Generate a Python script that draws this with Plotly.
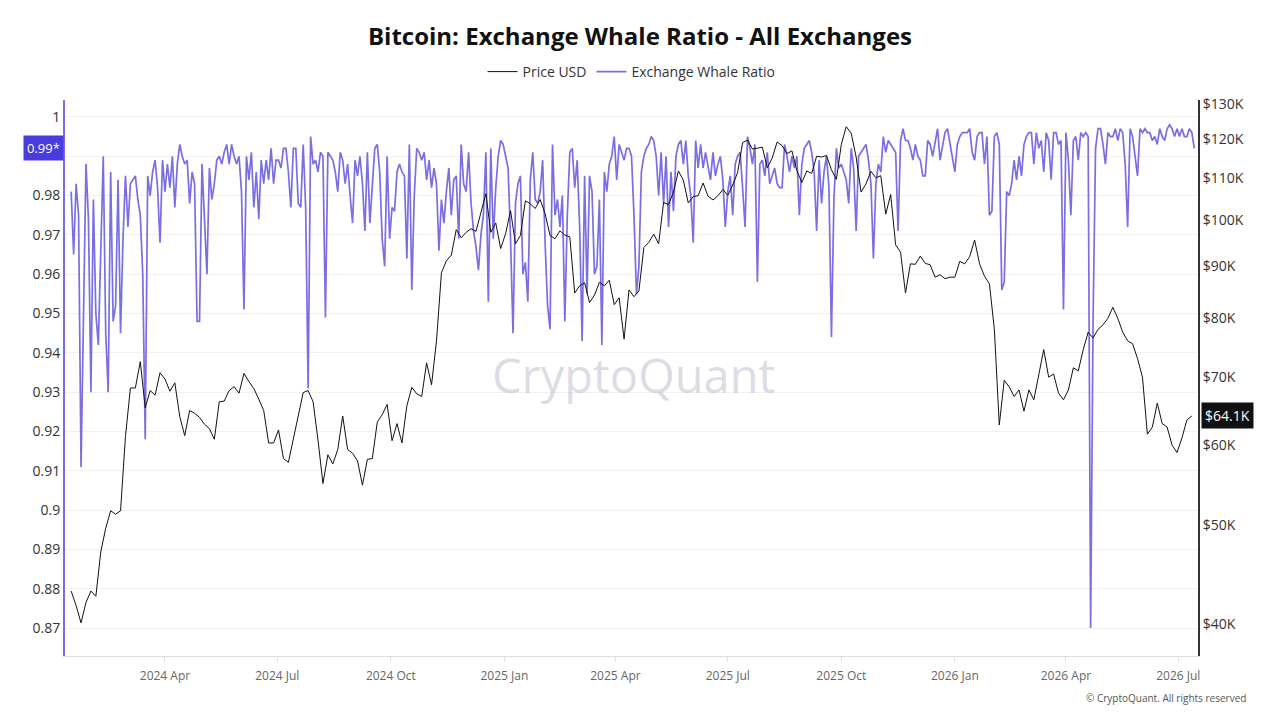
import math
import pandas as pd
import plotly.graph_objects as go

# ---------------- data ----------------
ratio_start = "2024-01-16"          # Exchange Whale Ratio, one value every 2 days
whale_ratio = [
    0.981, 0.965, 0.983, 0.975, 0.911, 0.955, 0.988, 0.974, 0.930, 0.979,
    0.950, 0.942, 0.963, 0.990, 0.945, 0.930, 0.986, 0.948, 0.952, 0.984,
    0.945, 0.969, 0.985, 0.972, 0.983, 0.984, 0.985, 0.979, 0.975, 0.960,
    0.918, 0.985, 0.980, 0.986, 0.989, 0.982, 0.968, 0.989, 0.981, 0.988,
    0.982, 0.990, 0.977, 0.988, 0.993, 0.990, 0.988, 0.989, 0.978, 0.986,
    0.983, 0.948, 0.948, 0.988, 0.974, 0.960, 0.987, 0.979, 0.983, 0.989,
    0.990, 0.988, 0.991, 0.993, 0.988, 0.993, 0.990, 0.988, 0.990, 0.981,
    0.951, 0.990, 0.984, 0.991, 0.977, 0.986, 0.974, 0.989, 0.983, 0.989,
    0.984, 0.992, 0.983, 0.989, 0.989, 0.987, 0.992, 0.992, 0.986, 0.977,
    0.992, 0.992, 0.978, 0.977, 0.993, 0.977, 0.931, 0.995, 0.988, 0.989,
    0.986, 0.991, 0.990, 0.949, 0.991, 0.990, 0.989, 0.986, 0.981, 0.991,
    0.989, 0.983, 0.988, 0.980, 0.973, 0.989, 0.985, 0.990, 0.983, 0.971,
    0.991, 0.973, 0.982, 0.992, 0.993, 0.986, 0.969, 0.962, 0.990, 0.969,
    0.977, 0.976, 0.986, 0.988, 0.986, 0.985, 0.964, 0.993, 0.956, 0.980,
    0.992, 0.991, 0.989, 0.991, 0.984, 0.989, 0.982, 0.987, 0.983, 0.966,
    0.979, 0.973, 0.981, 0.987, 0.975, 0.984, 0.985, 0.969, 0.993, 0.983,
    0.981, 0.991, 0.978, 0.971, 0.967, 0.961, 0.970, 0.975, 0.991, 0.953,
    0.992, 0.969, 0.982, 0.990, 0.994, 0.993, 0.990, 0.987, 0.969, 0.945,
    0.978, 0.983, 0.985, 0.960, 0.963, 0.953, 0.984, 0.991, 0.979, 0.978,
    0.981, 0.989, 0.968, 0.952, 0.946, 0.993, 0.975, 0.979, 0.972, 0.980,
    0.948, 0.975, 0.991, 0.992, 0.982, 0.989, 0.972, 0.943, 0.985, 0.955,
    0.985, 0.981, 0.960, 0.962, 0.979, 0.942, 0.986, 0.981, 0.988, 0.990,
    0.995, 0.984, 0.993, 0.991, 0.989, 0.992, 0.992, 0.990, 0.975, 0.955,
    0.962, 0.986, 0.990, 0.992, 0.993, 0.995, 0.994, 0.990, 0.980, 0.991,
    0.978, 0.990, 0.972, 0.986, 0.976, 0.990, 0.993, 0.994, 0.988, 0.994,
    0.985, 0.980, 0.968, 0.994, 0.987, 0.993, 0.987, 0.991, 0.987, 0.984,
    0.991, 0.985, 0.988, 0.990, 0.984, 0.972, 0.981, 0.985, 0.975, 0.988,
    0.990, 0.991, 0.982, 0.972, 0.995, 0.992, 0.988, 0.993, 0.958, 0.988,
    0.989, 0.985, 0.991, 0.983, 0.985, 0.987, 0.983, 0.982, 0.982, 0.993,
    0.990, 0.986, 0.990, 0.987, 0.990, 0.975, 0.988, 0.992, 0.993, 0.994,
    0.991, 0.986, 0.971, 0.989, 0.978, 0.986, 0.990, 0.982, 0.944, 0.979,
    0.992, 0.987, 0.988, 0.986, 0.984, 0.978, 0.992, 0.987, 0.971, 0.990,
    0.991, 0.992, 0.993, 0.989, 0.983, 0.964, 0.983, 0.988, 0.986, 0.995,
    0.991, 0.994, 0.993, 0.992, 0.991, 0.971, 0.994, 0.997, 0.994, 0.994,
    0.992, 0.989, 0.993, 0.990, 0.989, 0.985, 0.985, 0.994, 0.993, 0.990,
    0.994, 0.997, 0.989, 0.993, 0.996, 0.997, 0.993, 0.990, 0.986, 0.993,
    0.995, 0.996, 0.996, 0.996, 0.997, 0.991, 0.989, 0.995, 0.996, 0.996,
    0.988, 0.995, 0.975, 0.976, 0.995, 0.996, 0.993, 0.956, 0.958, 0.981,
    0.980, 0.983, 0.989, 0.984, 0.990, 0.985, 0.993, 0.995, 0.996, 0.996,
    0.988, 0.996, 0.992, 0.994, 0.986, 0.996, 0.994, 0.984, 0.996, 0.996,
    0.993, 0.994, 0.951, 0.996, 0.989, 0.975, 0.994, 0.995, 0.989, 0.996,
    0.995, 0.996, 0.995, 0.870, 0.949, 0.992, 0.997, 0.997, 0.993, 0.988,
    0.996, 0.995, 0.995, 0.997, 0.994, 0.997, 0.996, 0.988, 0.972, 0.997,
    0.995, 0.990, 0.985, 0.997, 0.996, 0.997, 0.996, 0.996, 0.994, 0.995,
    0.993, 0.997, 0.995, 0.994, 0.997, 0.998, 0.997, 0.995, 0.997, 0.995,
    0.997, 0.995, 0.995, 0.997, 0.996, 0.992,
]

price_start = "2024-01-16"          # Price USD (thousands), one value every 4 days
price_usd_k = [
    43.1, 41.7, 40.1, 42.0, 43.1, 42.6, 47.1, 49.7, 51.7, 51.3,
    51.7, 61.2, 68.3, 68.3, 72.5, 65.3, 67.9, 67.2, 70.7, 69.7,
    67.8, 69.1, 64.0, 61.3, 64.9, 64.5, 63.9, 62.9, 62.3, 60.8,
    66.2, 66.3, 67.9, 68.5, 67.5, 70.6, 69.3, 68.2, 66.6, 64.9,
    60.3, 60.3, 62.1, 58.2, 57.7, 60.8, 63.9, 67.6, 67.9, 66.2,
    60.7, 55.0, 58.7, 57.5, 59.4, 64.1, 59.4, 58.9, 57.9, 54.8,
    58.1, 58.2, 63.2, 64.3, 65.8, 60.6, 63.0, 60.3, 65.6, 68.4,
    67.4, 67.0, 72.3, 68.8, 76.0, 88.7, 91.1, 92.3, 97.8, 96.0,
    97.2, 98.0, 97.4, 101.4, 106.1, 97.2, 99.3, 93.7, 96.9, 102.1,
    94.7, 96.5, 104.4, 103.7, 102.6, 104.7, 101.4, 96.5, 95.8, 97.5,
    96.6, 96.2, 84.7, 86.1, 86.7, 82.9, 84.3, 86.8, 86.1, 87.2,
    82.5, 83.8, 76.3, 85.3, 84.0, 85.1, 93.9, 95.0, 96.8, 94.7,
    104.0, 103.5, 106.5, 111.7, 109.4, 103.9, 105.4, 105.6, 108.7, 105.5,
    104.6, 105.6, 107.1, 105.7, 108.2, 111.3, 119.1, 119.8, 117.4, 117.6,
    117.9, 112.5, 115.0, 119.3, 118.3, 116.2, 116.9, 111.8, 108.8, 111.7,
    111.1, 115.5, 115.3, 115.7, 112.0, 109.6, 118.6, 123.5, 121.7, 115.3,
    106.5, 108.5, 111.6, 110.0, 110.5, 101.3, 105.9, 94.5, 92.9, 84.7,
    90.5, 90.4, 92.1, 90.6, 90.3, 87.8, 88.3, 87.5, 87.8, 87.8,
    91.0, 90.5, 92.0, 95.5, 90.5, 88.0, 86.5, 78.0, 62.8, 69.5,
    68.5, 67.0, 68.0, 64.8, 68.0, 66.5, 70.5, 74.5, 70.0, 70.5,
    67.5, 66.5, 68.0, 71.5, 71.0, 74.5, 77.5, 76.5, 78.0, 78.8,
    80.0, 82.0, 80.0, 77.5, 76.0, 75.5, 73.0, 70.0, 61.5, 62.5,
    66.0, 63.0, 62.5, 60.0, 59.0, 61.0, 63.5, 64.1,
]

left_tickvals = [0.87, 0.88, 0.89, 0.90, 0.91, 0.92, 0.93, 0.94, 0.95, 0.96, 0.97, 0.98, 0.99, 1.00]
# the 0.99 label sits under the current-value badge "0.99*"
left_ticktext = ["0.87", "0.88", "0.89", "0.9", "0.91", "0.92", "0.93", "0.94", "0.95", "0.96", "0.97", "0.98", "", "1"]
right_tickvals = [40000, 50000, 60000, 70000, 80000, 90000, 100000, 110000, 120000, 130000]
right_ticktext = ["$40K", "$50K", "$60K", "$70K", "$80K", "$90K", "$100K", "$110K", "$120K", "$130K"]

# ---------------- figure ----------------
RATIO_COLOR = "#7a6ee2"
ratio_dates = pd.date_range(ratio_start, periods=len(whale_ratio), freq="2D")
price_dates = pd.date_range(price_start, periods=len(price_usd_k), freq="4D")
price_usd = [v * 1000 for v in price_usd_k]

fig = go.Figure()
fig.add_trace(go.Scatter(
    x=ratio_dates, y=whale_ratio, name="Exchange Whale Ratio", mode="lines",
    line=dict(color=RATIO_COLOR, width=1.7), yaxis="y", legendrank=2,
))
fig.add_trace(go.Scatter(
    x=price_dates, y=price_usd, name="Price USD", mode="lines",
    line=dict(color="#111111", width=1), yaxis="y2", legendrank=1,
))

fig.update_layout(
    width=1280, height=720,
    margin=dict(l=65, r=82, t=100, b=64, autoexpand=False),
    paper_bgcolor="white", plot_bgcolor="white",
    font=dict(family="Open Sans, sans-serif", color="#333"),
    title=dict(
        text="<b>Bitcoin: Exchange Whale Ratio - All Exchanges</b>",
        x=0.5, xanchor="center", y=1 - 37 / 720, yanchor="middle",
        font=dict(family="Open Sans, sans-serif", size=24, color="#111"),
    ),
    legend=dict(
        orientation="h", x=0.5, xanchor="center", y=1 - 72 / 720, yanchor="middle",
        yref="container", font=dict(size=14, color="#333"), itemwidth=30,
        bgcolor="rgba(0,0,0,0)",
    ),
    showlegend=True,
    xaxis=dict(
        type="date", range=["2024-01-11", "2026-07-17"],
        tickformat="%Y %b", dtick="M3", tick0="2024-01-01",
        showgrid=False, showline=True, linecolor="#dcdcdc", linewidth=1,
        ticks="outside", ticklen=5, tickcolor="#dcdcdc", ticklabelstandoff=4,
        tickfont=dict(size=12, color="#666"), zeroline=False,
    ),
    yaxis=dict(
        range=[0.8629, 1.0043], tickvals=left_tickvals, ticktext=left_ticktext,
        showgrid=True, gridcolor="#f0f0f0", gridwidth=1,
        showline=True, linecolor=RATIO_COLOR, linewidth=2,
        tickfont=dict(size=14, color="#333"), zeroline=False, ticks="",
    ),
    yaxis2=dict(
        type="log", overlaying="y", side="right",
        range=[math.log10(37200), math.log10(131200)],
        tickvals=right_tickvals, ticktext=right_ticktext,
        showgrid=False, showline=True, linecolor="#333", linewidth=2,
        tickfont=dict(size=14, color="#333"), zeroline=False, ticks="",
    ),
    annotations=[
        dict(text="CryptoQuant", xref="paper", yref="paper", x=0.502, y=0.505,
             showarrow=False, font=dict(size=47, color="rgba(175,175,195,0.45)",
                                        family="Open Sans, sans-serif")),
        dict(text="© CryptoQuant. All rights reserved", xref="paper", yref="paper",
             x=(1248 - 65) / 1133, y=(656 - 698) / 556, xanchor="right", yanchor="middle",
             showarrow=False, font=dict(size=10, color="#555")),
        dict(text=f"{whale_ratio[-1]:.2f}*", xref="paper", yref="y", x=0, y=whale_ratio[-1],
             xanchor="right", yanchor="middle", xshift=-1, showarrow=False,
             bgcolor="#4a3be0", borderpad=3, font=dict(size=13, color="white")),
        dict(text=f"${price_usd_k[-1]:.1f}K", xref="paper", yref="y2", x=1,
             y=math.log10(price_usd[-1]), xanchor="left", yanchor="middle", xshift=3,
             showarrow=False, bgcolor="#111111", borderpad=3,
             font=dict(size=14, color="white")),
    ],
)

fig.write_html("out.html")
